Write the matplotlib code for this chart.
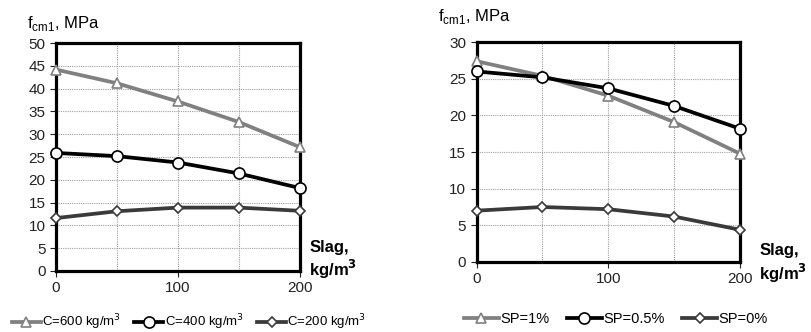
import matplotlib.pyplot as plt

plt.rcParams['font.family'] = ['Liberation Sans', 'DejaVu Sans']

slag = [0, 50, 100, 150, 200]

# left panel: cement content
c600 = [44.2, 41.2, 37.2, 32.7, 27.2]
c400 = [25.9, 25.2, 23.8, 21.4, 18.2]
c200 = [11.6, 13.1, 13.9, 13.9, 13.2]
left_labels = ["C=600 kg/m$^3$", "C=400 kg/m$^3$", "C=200 kg/m$^3$"]

# right panel: superplasticizer
sp1 = [27.4, 25.4, 22.7, 19.1, 14.8]
sp05 = [26.0, 25.2, 23.7, 21.3, 18.2]
sp0 = [7.0, 7.5, 7.2, 6.2, 4.4]
right_labels = ["SP=1%", "SP=0.5%", "SP=0%"]

colors = ['#808080', '#000000', '#3a3a3a']
markers = ['^', 'o', 'D']
msizes = [7, 8, 5.5]

fig = plt.figure(figsize=(8.12, 3.32), dpi=100)
ax1 = fig.add_axes([0.069, 0.184, 0.300, 0.686])
ax2 = fig.add_axes([0.587, 0.211, 0.324, 0.662])


def draw(ax, series, labels, ymax, tsize):
    handles = []
    for vals, lab, c, m, ms in zip(series, labels, colors, markers, msizes):
        h, = ax.plot(slag, vals, color=c, lw=2.7, marker=m, ms=ms,
                     mfc='white', mec=c, mew=1.2, label=lab, clip_on=False, zorder=3)
        handles.append(h)
    ax.set_xlim(0, 200)
    ax.set_ylim(0, ymax)
    ax.set_xticks([0, 100, 200])
    ax.set_xticks([50, 150], minor=True)
    ax.set_yticks(range(0, ymax + 1, 5))
    ax.grid(True, which='both', color='#a0a0a0', ls=(0, (1, 1)), lw=0.8)
    ax.tick_params(which='minor', length=0)
    ax.tick_params(direction='out', length=4, width=0.8, labelsize=tsize, colors='#222222')
    for s in ax.spines.values():
        s.set_linewidth(2.3)
    return handles


h1 = draw(ax1, [c600, c400, c200], left_labels, 50, 11)
h2 = draw(ax2, [sp1, sp05, sp0], right_labels, 30, 11)

fig.text(0.033, 0.93, "f$_{\\mathregular{cm1}}$, MPa", fontsize=12, va='center')
fig.text(0.540, 0.95, "f$_{\\mathregular{cm1}}$, MPa", fontsize=12, va='center')
fig.text(0.381, 0.215, "Slag,\nkg/m$^\\mathbf{3}$", fontsize=12, fontweight='bold', va='center')
fig.text(0.935, 0.205, "Slag,\nkg/m$^\\mathbf{3}$", fontsize=12, fontweight='bold', va='center')

fig.legend(handles=h1, loc='center left', bbox_to_anchor=(0.0, 0.03), ncol=3,
           frameon=False, fontsize=9.5, handlelength=2.2, handletextpad=0.1, columnspacing=1.0)
fig.legend(handles=h2, loc='center left', bbox_to_anchor=(0.555, 0.04), ncol=3,
           frameon=False, fontsize=10.5, handlelength=2.4, handletextpad=0.1, columnspacing=1.2)

plt.savefig("out.png", dpi=100)
